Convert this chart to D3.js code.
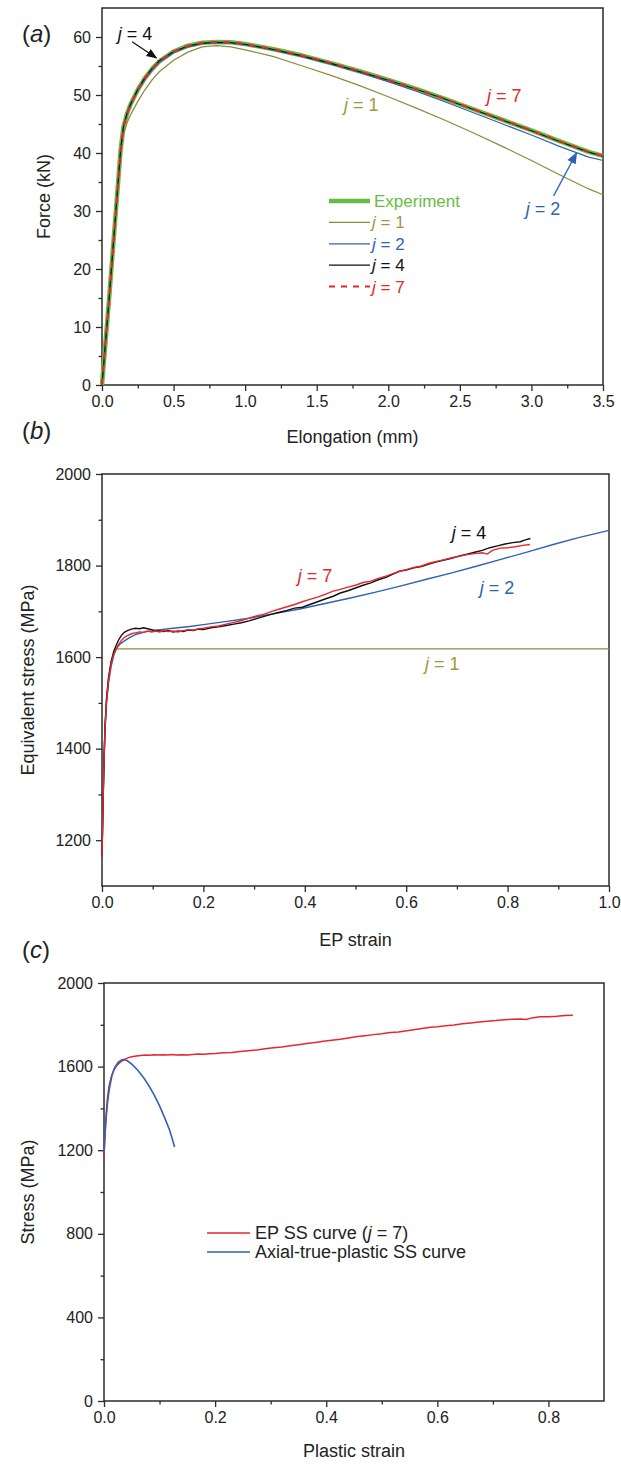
<!DOCTYPE html>
<html>
<head>
<meta charset="utf-8">
<script src="https://cdn.jsdelivr.net/npm/d3@7"></script>
<style>
  html, body { margin: 0; padding: 0; background: #fff; }
  svg { display: block; font-family: "Liberation Sans", Arial, sans-serif; }
</style>
</head>
<body>
<svg id="fig" width="621" height="1466"></svg>
<script>
// ---------- (a) force vs elongation ----------
const elongA = [0, 0.05, 0.10, 0.13, 0.15, 0.175, 0.20, 0.25, 0.30, 0.35, 0.40, 0.50, 0.60, 0.70, 0.80, 0.90, 1.00,
                1.20, 1.40, 1.60, 1.80, 2.00, 2.20, 2.40, 2.60, 2.80, 3.00, 3.20, 3.40, 3.50];
const forceExp = [0, 15, 31, 40.5, 44.5, 46.8, 48.4, 50.9, 52.9, 54.5, 55.8, 57.5, 58.5, 59.0, 59.15, 59.1, 58.8,
                  57.9, 56.8, 55.5, 54.1, 52.6, 51.0, 49.3, 47.5, 45.7, 43.9, 42.0, 40.2, 39.5];
const forceJ1 = [0, 15, 30.5, 39.5, 43.2, 45.2, 46.6, 48.9, 50.9, 52.6, 54.0, 56.0, 57.4, 58.3, 58.5, 58.3, 57.8,
                 56.6, 55.0, 53.4, 51.6, 49.7, 47.7, 45.6, 43.4, 41.1, 38.7, 36.2, 33.8, 32.8];
const forceJ2 = [0, 15, 31, 40.5, 44.4, 46.6, 48.2, 50.7, 52.7, 54.3, 55.6, 57.3, 58.3, 58.85, 59.0, 58.95, 58.65,
                 57.75, 56.6, 55.3, 53.9, 52.3, 50.6, 48.8, 46.9, 45.0, 43.1, 41.1, 39.3, 38.7];
const forceJ4 = [0, 15, 31, 40.6, 44.6, 46.9, 48.5, 51.0, 53.0, 54.6, 55.9, 57.5, 58.45, 58.95, 59.1, 59.05, 58.75,
                 57.85, 56.75, 55.45, 54.05, 52.55, 50.95, 49.25, 47.45, 45.65, 43.85, 41.95, 40.15, 39.45];
const forceJ7 = [0, 15, 31, 40.5, 44.5, 46.8, 48.4, 50.9, 52.9, 54.5, 55.8, 57.5, 58.5, 59.0, 59.15, 59.1, 58.8,
                 57.9, 56.8, 55.5, 54.1, 52.6, 51.0, 49.3, 47.5, 45.7, 43.9, 42.0, 40.2, 39.5];
const ticksAx = [0, 0.5, 1.0, 1.5, 2.0, 2.5, 3.0, 3.5];
const ticksAy = [0, 10, 20, 30, 40, 50, 60];

// ---------- (b) equivalent stress vs EP strain ----------
const strainJ1 = [0, 0.002, 0.004, 0.006, 0.009, 0.013, 0.018, 0.023, 0.028, 1.0];
const stressJ1 = [1165, 1280, 1380, 1450, 1510, 1556, 1590, 1608, 1618, 1618];

const strainJ2 = [0, 0.002, 0.004, 0.006, 0.009, 0.013, 0.018, 0.023, 0.028, 0.035, 0.045, 0.055, 0.068, 0.085,
                  0.107, 0.14, 0.173, 0.2, 0.239, 0.29, 0.34, 0.39, 0.44, 0.49, 0.54, 0.588, 0.64, 0.69, 0.74,
                  0.785, 0.84, 0.89, 0.94, 1.0];
const stressJ2 = [1165, 1275, 1370, 1440, 1500, 1545, 1580, 1603, 1618, 1628, 1636, 1643, 1650, 1655,
                  1659, 1663, 1667, 1671, 1677, 1685, 1695, 1705, 1717, 1729, 1742, 1755, 1770, 1784, 1799,
                  1813, 1830, 1846, 1861, 1877];

const strainJ4 = [0, 0.002, 0.004, 0.006, 0.009, 0.013, 0.018, 0.023, 0.028, 0.033, 0.038, 0.044, 0.05, 0.058,
                  0.066, 0.074, 0.082, 0.09, 0.098, 0.106, 0.114, 0.122, 0.13, 0.14, 0.15, 0.16, 0.17, 0.18,
                  0.19, 0.2, 0.215, 0.23, 0.245, 0.26, 0.275, 0.29, 0.305, 0.32, 0.335, 0.35, 0.365, 0.38,
                  0.395, 0.41, 0.425, 0.44, 0.456, 0.47, 0.485, 0.5, 0.515, 0.53, 0.545, 0.56, 0.575, 0.588,
                  0.6, 0.615, 0.63, 0.645, 0.66, 0.675, 0.69, 0.705, 0.72, 0.735, 0.75, 0.765, 0.78, 0.795,
                  0.81, 0.825, 0.835, 0.845];
const stressJ4 = [1165, 1280, 1380, 1450, 1510, 1556, 1590, 1612, 1626, 1638, 1647, 1654, 1658, 1661,
                  1663, 1662, 1664, 1662, 1660, 1658, 1657, 1656, 1658, 1655, 1657, 1656, 1659, 1658,
                  1661, 1660, 1664, 1666, 1669, 1672, 1675, 1679, 1684, 1689, 1694, 1698, 1702, 1707,
                  1709, 1715, 1721, 1727, 1733, 1740, 1745, 1751, 1757, 1762, 1769, 1774, 1782, 1788,
                  1790, 1795, 1798, 1803, 1808, 1812, 1816, 1821, 1825, 1829, 1833, 1839, 1843, 1847,
                  1850, 1852, 1856, 1859];

const strainJ7 = [0, 0.002, 0.004, 0.006, 0.009, 0.013, 0.018, 0.023, 0.028, 0.033, 0.038, 0.044, 0.05, 0.058,
                  0.066, 0.074, 0.082, 0.09, 0.098, 0.106, 0.114, 0.122, 0.13, 0.14, 0.15, 0.16, 0.17, 0.18,
                  0.19, 0.2, 0.215, 0.23, 0.245, 0.26, 0.275, 0.29, 0.305, 0.32, 0.335, 0.35, 0.365, 0.38,
                  0.395, 0.41, 0.425, 0.44, 0.456, 0.47, 0.485, 0.5, 0.515, 0.53, 0.545, 0.56, 0.575, 0.588,
                  0.6, 0.615, 0.63, 0.645, 0.66, 0.675, 0.69, 0.705, 0.72, 0.735, 0.75, 0.76, 0.77, 0.785,
                  0.8, 0.815, 0.83, 0.844];
const stressJ7 = [1165, 1278, 1375, 1445, 1505, 1550, 1585, 1606, 1618, 1628, 1636, 1643, 1647, 1651,
                  1653, 1655, 1654, 1657, 1655, 1657, 1655, 1658, 1656, 1657, 1655, 1658, 1660, 1659,
                  1662, 1663, 1666, 1668, 1672, 1676, 1680, 1685, 1690, 1694, 1700, 1705, 1710, 1715,
                  1721, 1726, 1731, 1737, 1744, 1748, 1753, 1757, 1763, 1766, 1772, 1777, 1783, 1788,
                  1791, 1796, 1799, 1805, 1809, 1813, 1817, 1820, 1824, 1826, 1828, 1825, 1833, 1838,
                  1839, 1841, 1844, 1846];
const ticksBx = [0, 0.2, 0.4, 0.6, 0.8, 1.0];
const ticksBy = [1200, 1400, 1600, 1800, 2000];

// ---------- (c) stress vs plastic strain ----------
const strainAxial = [0, 0.003, 0.006, 0.01, 0.015, 0.02, 0.026, 0.032, 0.036, 0.042, 0.05, 0.06, 0.07, 0.08,
                     0.09, 0.1, 0.11, 0.118, 0.122, 0.127];
const stressAxial = [1195, 1330, 1420, 1500, 1565, 1600, 1622, 1633, 1634, 1628, 1612, 1585, 1552, 1512,
                     1466, 1412, 1350, 1297, 1262, 1215];
const ticksCx = [0, 0.2, 0.4, 0.6, 0.8];
const ticksCy = [0, 400, 800, 1200, 1600, 2000];

const C = {
  green: "#66bd43",
  olive: "#8d8c3e",
  oliveText: "#a09a3c",
  blue: "#2f62b5",
  black: "#111111",
  red: "#e8262b",
  axis: "#2b2b2b"
};

const svg = d3.select("#fig");
const zip = (xs, ys) => xs.map((x, i) => [x, ys[i]]);

function panel(opt) {
  const g = svg.append("g");
  const x = d3.scaleLinear().domain(opt.xDomain).range([opt.left, opt.right]);
  const y = d3.scaleLinear().domain(opt.yDomain).range([opt.bottom, opt.top]);

  // minor ticks
  g.append("g").attr("transform", `translate(0,${opt.bottom})`)
    .call(d3.axisBottom(x).tickValues(opt.xMinor).tickSize(3.5).tickFormat("").tickSizeOuter(0))
    .call(s => s.select(".domain").remove());
  g.append("g").attr("transform", `translate(${opt.left},0)`)
    .call(d3.axisLeft(y).tickValues(opt.yMinor).tickSize(3.5).tickFormat("").tickSizeOuter(0))
    .call(s => s.select(".domain").remove());

  // major ticks with labels
  const xa = g.append("g").attr("transform", `translate(0,${opt.bottom})`)
    .call(d3.axisBottom(x).tickValues(opt.xTicks).tickSize(6).tickPadding(5).tickSizeOuter(0)
      .tickFormat(d3.format(".1f")));
  const ya = g.append("g").attr("transform", `translate(${opt.left},0)`)
    .call(d3.axisLeft(y).tickValues(opt.yTicks).tickSize(6).tickPadding(5).tickSizeOuter(0)
      .tickFormat(d3.format("d")));
  [xa, ya].forEach(a => {
    a.selectAll("text").attr("font-size", 16).attr("fill", "#222")
      .attr("font-family", "'Liberation Sans', Arial, sans-serif");
    a.select(".domain").remove();
  });
  g.selectAll("line").attr("stroke", C.axis).attr("stroke-width", 1.3);

  // frame
  g.append("rect")
    .attr("x", opt.left).attr("y", opt.top)
    .attr("width", opt.right - opt.left).attr("height", opt.bottom - opt.top)
    .attr("fill", "none").attr("stroke", C.axis).attr("stroke-width", 1.5);

  // titles
  g.append("text").attr("x", (opt.left + opt.right) / 2).attr("y", opt.xTitleY)
    .attr("text-anchor", "middle").attr("font-size", 18).attr("fill", "#222").text(opt.xTitle);
  g.append("text").attr("transform", `translate(${opt.yTitleX},${(opt.top + opt.bottom) / 2}) rotate(-90)`)
    .attr("text-anchor", "middle").attr("font-size", 18).attr("fill", "#222").text(opt.yTitle);

  // panel tag
  const tag = g.append("text").attr("x", 22).attr("y", opt.tagY).attr("font-size", 24).attr("fill", "#222");
  tag.append("tspan").text("(");
  tag.append("tspan").attr("font-style", "italic").text(opt.tag);
  tag.append("tspan").text(")");

  const plot = g.append("g");
  const line = d3.line().x(d => x(d[0])).y(d => y(d[1]));
  return { g, plot, x, y, line };
}

function jLabel(sel, xp, yp, value, color, size) {
  const t = sel.append("text").attr("x", xp).attr("y", yp).attr("font-size", size || 18).attr("fill", color);
  t.append("tspan").attr("font-style", "italic").text("j");
  t.append("tspan").text(" = " + value);
  return t;
}

const defs = svg.append("defs");
function arrowHead(id, color) {
  defs.append("marker").attr("id", id).attr("viewBox", "0 0 10 10").attr("refX", 9).attr("refY", 5)
    .attr("markerWidth", 9).attr("markerHeight", 9).attr("orient", "auto")
    .append("path").attr("d", "M0,1 L10,5 L0,9 Z").attr("fill", color);
}
arrowHead("arrBlack", C.black);
arrowHead("arrBlue", C.blue);

// ===== panel (a) =====
const A = panel({
  left: 102, right: 603, top: 8, bottom: 385,
  xDomain: [0, 3.5], yDomain: [0, 65],
  xTicks: ticksAx, yTicks: ticksAy,
  xMinor: d3.range(0.25, 3.5, 0.5), yMinor: d3.range(5, 65, 10),
  xTitle: "Elongation (mm)", yTitle: "Force (kN)",
  xTitleY: 443, yTitleX: 50, tag: "a", tagY: 42
});
A.plot.append("path").attr("d", A.line(zip(elongA, forceExp))).attr("fill", "none")
  .attr("stroke", C.green).attr("stroke-width", 4.5).attr("stroke-linejoin", "round");
A.plot.append("path").attr("d", A.line(zip(elongA, forceJ1))).attr("fill", "none")
  .attr("stroke", C.olive).attr("stroke-width", 1.3);
A.plot.append("path").attr("d", A.line(zip(elongA, forceJ2))).attr("fill", "none")
  .attr("stroke", C.blue).attr("stroke-width", 1.2);
A.plot.append("path").attr("d", A.line(zip(elongA, forceJ4))).attr("fill", "none")
  .attr("stroke", C.black).attr("stroke-width", 1.1);
A.plot.append("path").attr("d", A.line(zip(elongA, forceJ7))).attr("fill", "none")
  .attr("stroke", C.red).attr("stroke-width", 2).attr("stroke-dasharray", "7,6");

jLabel(A.g, A.x(0.11), A.y(59.4), 4, C.black);
A.g.append("line").attr("x1", A.x(0.21)).attr("y1", A.y(59.2)).attr("x2", A.x(0.38)).attr("y2", A.y(56.4))
  .attr("stroke", C.black).attr("stroke-width", 1.2).attr("marker-end", "url(#arrBlack)");
jLabel(A.g, A.x(1.69), A.y(47.3), 1, C.oliveText);
jLabel(A.g, A.x(2.69), A.y(48.8), 7, C.red);
jLabel(A.g, A.x(2.96), A.y(29.3), 2, C.blue);
A.g.append("line").attr("x1", A.x(3.155)).attr("y1", A.y(32.6)).attr("x2", A.x(3.315)).attr("y2", A.y(40.0))
  .attr("stroke", C.blue).attr("stroke-width", 1.3).attr("marker-end", "url(#arrBlue)");

// legend (a)
const legA = [
  { label: "Experiment", color: C.green, text: C.green, w: 4.5, dash: null, j: null },
  { label: "1", color: C.olive, text: C.oliveText, w: 1.3, dash: null, j: true },
  { label: "2", color: C.blue, text: C.blue, w: 1.2, dash: null, j: true },
  { label: "4", color: C.black, text: C.black, w: 1.2, dash: null, j: true },
  { label: "7", color: C.red, text: C.red, w: 2, dash: "6,6", j: true }
];
legA.forEach((d, i) => {
  const yy = 201 + i * 21.4;
  A.g.append("line").attr("x1", 329).attr("x2", 370).attr("y1", yy).attr("y2", yy)
    .attr("stroke", d.color).attr("stroke-width", d.w).attr("stroke-dasharray", d.dash);
  if (d.j) {
    jLabel(A.g, 372, yy + 6, d.label, d.text, 17);
  } else {
    A.g.append("text").attr("x", 374).attr("y", yy + 6).attr("font-size", 17).attr("fill", d.text).text(d.label);
  }
});

// ===== panel (b) =====
const B = panel({
  left: 102, right: 609, top: 474, bottom: 886,
  xDomain: [0, 1.0], yDomain: [1100, 2000],
  xTicks: ticksBx, yTicks: ticksBy,
  xMinor: d3.range(0.1, 1.0, 0.2), yMinor: d3.range(1300, 2000, 200),
  xTitle: "EP strain", yTitle: "Equivalent stress (MPa)",
  xTitleY: 946, yTitleX: 34, tag: "b", tagY: 439
});
B.plot.append("path").attr("d", B.line(zip(strainJ1, stressJ1))).attr("fill", "none")
  .attr("stroke", C.olive).attr("stroke-width", 1.3);
B.plot.append("path").attr("d", B.line(zip(strainJ2, stressJ2))).attr("fill", "none")
  .attr("stroke", C.blue).attr("stroke-width", 1.4);
B.plot.append("path").attr("d", B.line(zip(strainJ4, stressJ4))).attr("fill", "none")
  .attr("stroke", C.black).attr("stroke-width", 1.4);
B.plot.append("path").attr("d", B.line(zip(strainJ7, stressJ7))).attr("fill", "none")
  .attr("stroke", C.red).attr("stroke-width", 1.4);

jLabel(B.g, B.x(0.69), B.y(1857), 4, C.black);
jLabel(B.g, B.x(0.386), B.y(1765), 7, C.red);
jLabel(B.g, B.x(0.745), B.y(1737), 2, C.blue);
jLabel(B.g, B.x(0.637), B.y(1572), 1, C.oliveText);

// ===== panel (c) =====
const Cp = panel({
  left: 104, right: 604, top: 983, bottom: 1401,
  xDomain: [0, 0.9], yDomain: [0, 2000],
  xTicks: ticksCx, yTicks: ticksCy,
  xMinor: d3.range(0.1, 0.9, 0.2), yMinor: d3.range(200, 2000, 400),
  xTitle: "Plastic strain", yTitle: "Stress (MPa)",
  xTitleY: 1457, yTitleX: 34, tag: "c", tagY: 958
});
Cp.plot.append("path").attr("d", Cp.line(zip(strainJ7, stressJ7))).attr("fill", "none")
  .attr("stroke", C.red).attr("stroke-width", 1.5);
Cp.plot.append("path").attr("d", Cp.line(zip(strainAxial, stressAxial))).attr("fill", "none")
  .attr("stroke", C.blue).attr("stroke-width", 1.6);

const legC = [
  { color: C.red, parts: [["EP SS curve (", null], ["j", "italic"], [" = 7)", null]] },
  { color: C.blue, parts: [["Axial-true-plastic SS curve", null]] }
];
legC.forEach((d, i) => {
  const yy = 1233 + i * 19;
  Cp.g.append("line").attr("x1", 207).attr("x2", 250).attr("y1", yy).attr("y2", yy)
    .attr("stroke", d.color).attr("stroke-width", 1.5);
  const t = Cp.g.append("text").attr("x", 255).attr("y", yy + 6).attr("font-size", 18).attr("fill", "#222");
  d.parts.forEach(p => t.append("tspan").attr("font-style", p[1]).text(p[0]));
});
</script>
</body>
</html>
